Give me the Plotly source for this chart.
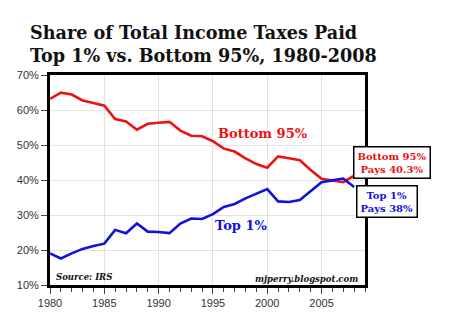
import plotly.graph_objects as go

years = list(range(1980, 2009))
top1 = [19.05, 17.58, 19.03, 20.32, 21.12, 21.81, 25.75, 24.81, 27.58, 25.24,
        25.13, 24.82, 27.54, 29.01, 28.86, 30.26, 32.31, 33.17, 34.75, 36.18,
        37.42, 33.89, 33.71, 34.27, 36.89, 39.38, 39.89, 40.42, 38.02]
bottom95 = [63.16, 64.94, 64.41, 62.74, 62.02, 61.22, 57.43, 56.74, 54.38, 56.06,
            56.36, 56.62, 54.12, 52.64, 52.48, 51.09, 48.96, 48.13, 46.16, 44.55,
            43.53, 46.75, 46.20, 45.64, 42.87, 40.33, 39.86, 39.37, 41.28]

RED = "#ee1111"
BLUE = "#1111dd"
SERIF = "DejaVu Serif"

fig = go.Figure()
fig.add_trace(go.Scatter(x=years, y=bottom95, mode="lines",
                         line=dict(color=RED, width=2.6), name="Bottom 95%"))
fig.add_trace(go.Scatter(x=years, y=top1, mode="lines",
                         line=dict(color=BLUE, width=2.6), name="Top 1%"))

fig.update_layout(
    width=450, height=325,
    margin=dict(l=50, r=85, t=75, b=40),
    paper_bgcolor="white", plot_bgcolor="white",
    showlegend=False,
    title=dict(text="<b>Share of Total Income Taxes Paid<br>Top 1% vs. Bottom 95%, 1980-2008</b>",
               x=30/450, xanchor="left", xref="container",
               y=1-39/325, yanchor="middle", yref="container",
               font=dict(family=SERIF, size=17.6, color="#111111")),
    xaxis=dict(range=[1980, 2009], dtick=5, tick0=1980,
               showgrid=True, gridcolor="#e2e2e2", gridwidth=1,
               showline=True, linecolor="black", linewidth=3, mirror=True,
               ticks="outside", ticklen=6, tickcolor="#444", tickwidth=1,
               minor=dict(dtick=1, ticks="outside", ticklen=4, tickcolor="#444", showgrid=False),
               tickfont=dict(family="Liberation Sans", size=11, color="#333"),
               zeroline=False),
    yaxis=dict(range=[10, 70], dtick=10, ticksuffix="%",
               showgrid=True, gridcolor="#e2e2e2", gridwidth=1,
               showline=True, linecolor="black", linewidth=3, mirror=True,
               ticks="outside", ticklen=6, tickcolor="#444", tickwidth=1,
               tickfont=dict(family="Liberation Sans", size=11, color="#333"),
               zeroline=False),
)

fig.add_annotation(x=1999.6, y=53.4, xref="x", yref="y", text="<b>Bottom 95%</b>",
                   showarrow=False, xanchor="center", yanchor="middle",
                   font=dict(family=SERIF, size=13, color=RED))
fig.add_annotation(x=1997.6, y=27.1, xref="x", yref="y", text="<b>Top 1%</b>",
                   showarrow=False, xanchor="center", yanchor="middle",
                   font=dict(family=SERIF, size=13, color=BLUE))

fig.add_annotation(x=1.087, y=0.583, xref="paper", yref="paper",
                   xanchor="center", yanchor="middle",
                   text="<b>Bottom 95%<br>Pays 40.3%</b>", showarrow=False,
                   font=dict(family=SERIF, size=10, color=RED),
                   bgcolor="white", bordercolor="black", borderwidth=1.5, borderpad=3)
fig.add_annotation(x=1.07, y=0.40, xref="paper", yref="paper",
                   xanchor="center", yanchor="middle",
                   text="<b>Top 1%<br>Pays 38%</b>", showarrow=False,
                   font=dict(family=SERIF, size=10, color=BLUE),
                   bgcolor="white", bordercolor="black", borderwidth=1.5, borderpad=3)

fig.add_annotation(x=0.013, y=0.038, xref="paper", yref="paper",
                   xanchor="left", yanchor="middle",
                   text="<b><i>Source: IRS</i></b>", showarrow=False,
                   font=dict(family=SERIF, size=8.5, color="#111"))
fig.add_annotation(x=0.984, y=0.029, xref="paper", yref="paper",
                   xanchor="right", yanchor="middle",
                   text="<b><i>mjperry.blogspot.com</i></b>", showarrow=False,
                   font=dict(family=SERIF, size=8.5, color="#111"))

fig.write_html("out.html")
